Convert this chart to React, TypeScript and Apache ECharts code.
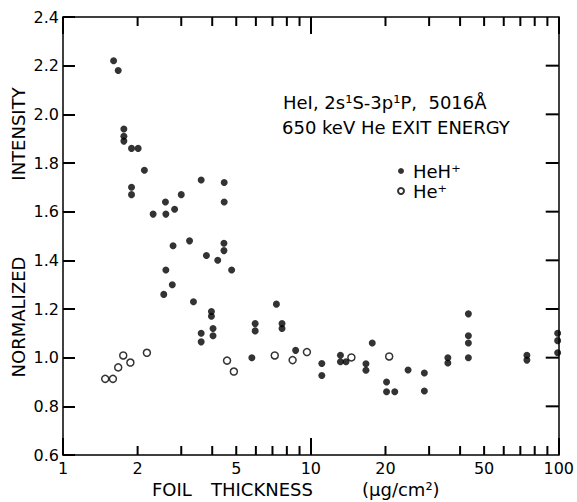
import React, { useEffect, useRef } from "react";
import * as echarts from "echarts";

const heHPlusX = [1.6, 1.67, 1.76, 1.76, 1.76, 1.89, 2.01, 2.13, 1.89, 1.89, 3.61, 4.47, 4.47, 2.59, 3.0, 2.31, 2.6, 2.82, 3.24, 2.78, 4.46, 4.46, 3.79, 4.21, 4.79, 2.6, 2.76, 2.55, 3.36, 3.97, 3.97, 3.61, 3.61, 4.03, 4.03, 7.26, 5.96, 5.96, 7.65, 7.65, 5.78, 8.68, 11.07, 11.07, 13.16, 13.16, 13.86, 16.68, 16.68, 17.69, 20.2, 20.2, 21.8, 24.67, 28.7, 28.7, 35.7, 35.7, 43.2, 43.2, 43.2, 43.2, 74.4, 74.4, 99, 99, 99];
const heHPlusY = [2.22, 2.18, 1.94, 1.91, 1.89, 1.86, 1.86, 1.77, 1.7, 1.67, 1.73, 1.72, 1.64, 1.64, 1.67, 1.59, 1.59, 1.61, 1.48, 1.46, 1.47, 1.44, 1.42, 1.4, 1.36, 1.36, 1.3, 1.26, 1.23, 1.19, 1.17, 1.1, 1.065, 1.12, 1.09, 1.22, 1.14, 1.11, 1.14, 1.12, 1.0, 1.03, 0.976, 0.927, 1.01, 0.983, 0.983, 0.975, 0.948, 1.06, 0.9, 0.86, 0.86, 0.949, 0.937, 0.863, 1.0, 0.978, 1.18, 1.09, 1.06, 1.0, 1.01, 0.99, 1.1, 1.07, 1.02];
const hePlusX = [1.48, 1.59, 1.67, 1.75, 1.87, 2.18, 4.59, 4.89, 7.15, 8.44, 9.64, 14.57, 20.7];
const hePlusY = [0.913, 0.913, 0.96, 1.009, 0.98, 1.02, 0.988, 0.943, 1.009, 0.99, 1.023, 1.001, 1.005];
const minorTickValues = [2, 3, 4, 5, 6, 7, 8, 9, 20, 30, 40, 50, 60, 70, 80, 90];
const yTickValues = [0.8, 1.0, 1.2, 1.4, 1.6, 1.8, 2.0, 2.2];
const extraTickLabels = [2, 5, 20, 50];
const yTickLabels = ["0.6", "0.8", "1.0", "1.2", "1.4", "1.6", "1.8", "2.0", "2.2", "2.4"];

const FONT = "DejaVu Sans";
const INK = "#000";

export default function App() {
  const ref = useRef<HTMLDivElement>(null);
  useEffect(() => {
    document.body.style.margin = "0";
    const chart = echarts.init(ref.current!, null, { renderer: "svg" });
    const heH = heHPlusX.map((x, i) => [x, heHPlusY[i]]);
    const he = hePlusX.map((x, i) => [x, hePlusY[i]]);
    const mkLine = () => ({ show: true, lineStyle: { color: INK, width: 1.5 } });
    const mkTick = (len: number) => ({ show: true, inside: true, length: len, lineStyle: { color: INK, width: 2 } });
    const option: any = {
      animation: false,
      grid: { left: 63, right: 17, top: 17, bottom: 47 },
      xAxis: [
        {
          type: "log", logBase: 10, min: 1, max: 100, position: "bottom",
          axisLine: mkLine(), splitLine: { show: false }, axisTick: mkTick(17),
          axisLabel: { color: INK, fontSize: 16, fontFamily: FONT, margin: 5, showMinLabel: true, showMaxLabel: true,
            formatter: (v: number) => String(Math.round(v)) },
        },
        {
          type: "log", logBase: 10, min: 1, max: 100, position: "top",
          axisLine: mkLine(), splitLine: { show: false }, axisTick: mkTick(17),
          axisLabel: { show: false },
        },
      ],
      yAxis: [
        {
          type: "value", min: 0.6, max: 2.4, interval: 0.2, position: "left",
          axisLine: mkLine(), splitLine: { show: false }, axisTick: mkTick(12),
          axisLabel: { color: INK, fontSize: 16, fontFamily: FONT, margin: 4,
            formatter: (v: number) => yTickLabels[Math.round((v - 0.6) / 0.2)] },
        },
        {
          type: "value", min: 0.6, max: 2.4, interval: 0.2, position: "right",
          axisLine: mkLine(), splitLine: { show: false }, axisTick: { show: false },
          axisLabel: { show: false },
        },
      ],
      legend: {
        data: ["HeH⁺", "He⁺"], orient: "vertical", left: 392, top: 157,
        itemWidth: 6, itemHeight: 6, itemGap: 2, icon: "circle",
        textStyle: { fontSize: 18, fontFamily: FONT, color: INK, padding: [0, 0, 0, 4] },
      },
      series: [
        {
          name: "HeH⁺", type: "scatter", data: heH, symbol: "circle", symbolSize: 7,
          itemStyle: { color: INK }, xAxisIndex: 0, yAxisIndex: 0,
        },
        {
          name: "He⁺", type: "scatter", data: he, symbol: "circle", symbolSize: 7,
          itemStyle: { color: "#fff", borderColor: INK, borderWidth: 1.5 }, xAxisIndex: 0, yAxisIndex: 0,
        },
        {
          type: "custom", xAxisIndex: 0, yAxisIndex: 0, silent: true,
          data: minorTickValues.map((v) => [v, 0.6]),
          renderItem: (params: any, api: any) => {
            const v = api.value(0);
            const b = api.coord([v, 0.6]);
            const t = api.coord([v, 2.4]);
            return {
              type: "group",
              children: [
                { type: "rect", shape: { x: b[0] - 1, y: b[1] - 9, width: 2, height: 9 }, style: { fill: INK } },
                { type: "rect", shape: { x: t[0] - 1, y: t[1], width: 2, height: 9 }, style: { fill: INK } },
              ],
            };
          },
        },
        {
          type: "custom", xAxisIndex: 0, yAxisIndex: 0, silent: true,
          data: yTickValues.map((v) => [100, v]),
          renderItem: (params: any, api: any) => {
            const p = api.coord([100, api.value(1)]);
            return { type: "rect", shape: { x: p[0] - 13, y: p[1] - 1, width: 13, height: 2 }, style: { fill: INK } };
          },
        },
        {
          type: "custom", xAxisIndex: 0, yAxisIndex: 0, silent: true,
          data: extraTickLabels.map((v) => [v, 0.6]),
          renderItem: (params: any, api: any) => {
            const v = api.value(0);
            const b = api.coord([v, 0.6]);
            return {
              type: "text",
              x: b[0], y: b[1] + 5,
              style: { text: String(v), fontSize: 16, fontFamily: FONT, fill: INK, align: "center", verticalAlign: "top" },
            };
          },
        },
      ],
      graphic: [
        { type: "text", left: 283, top: 93, style: { text: "HeI, 2s¹S-3p¹P,  5016Å", fontSize: 18, fontFamily: FONT, fill: INK } },
        { type: "text", left: 282, top: 118, style: { text: "650 keV He EXIT ENERGY", fontSize: 18, fontFamily: FONT, fill: INK } },
        { type: "text", left: 152, top: 480, style: { text: "FOIL", fontSize: 18, fontFamily: FONT, fill: INK } },
        { type: "text", left: 211, top: 480, style: { text: "THICKNESS", fontSize: 18, fontFamily: FONT, fill: INK } },
        { type: "text", left: 362, top: 480, style: { text: "(μg/cm²)", fontSize: 18, fontFamily: FONT, fill: INK } },
        { type: "text", x: 18, y: 317, rotation: Math.PI / 2, style: { text: "NORMALIZED", fontSize: 18, fontFamily: FONT, fill: INK, align: "center", verticalAlign: "middle" } },
        { type: "text", x: 18, y: 134, rotation: Math.PI / 2, style: { text: "INTENSITY", fontSize: 18, fontFamily: FONT, fill: INK, align: "center", verticalAlign: "middle" } },
      ],
    };
    chart.setOption(option);
    return () => chart.dispose();
  }, []);
  return <div ref={ref} style={{ width: 577, height: 502 }} />;
}
